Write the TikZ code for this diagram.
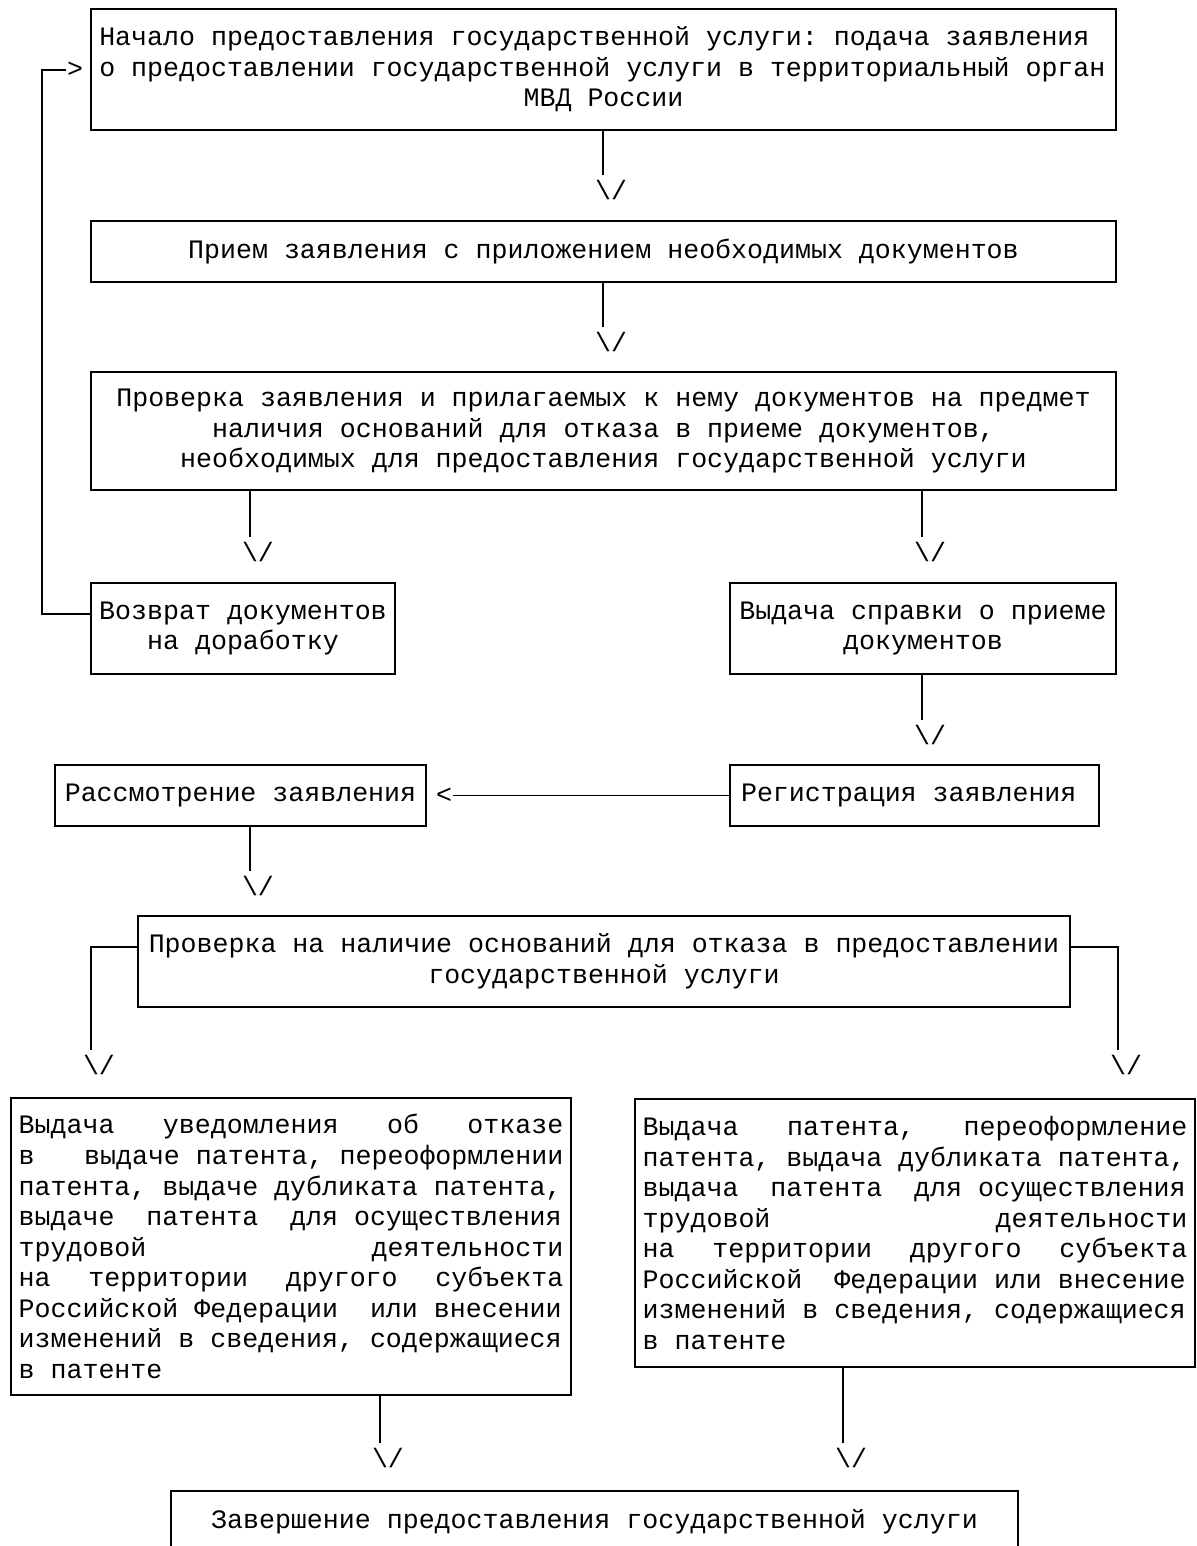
\documentclass[tikz,border=0pt]{standalone}
\usepackage{fontspec}
\setmonofont{Liberation Mono}
\usetikzlibrary{calc,positioning}

\newcommand{\ttsize}{\ttfamily\fontsize{15.15pt}{17.4pt}\selectfont\frenchspacing}
\tikzset{
  blk/.style={draw, line width=1.1pt, inner sep=0pt, align=flush center},
  tip/.style={inner sep=0pt},
}

\begin{document}
\begin{tikzpicture}[x=0.02cm,y=-0.02cm, font=\ttsize, line width=1.1pt]
\useasboundingbox (0,0) rectangle (1197,1546);
\clip (0,0) rectangle (1197,1546);

% boxes
\node[blk, minimum width=20.5cm, minimum height=2.42cm, text width=574pt, align=flush left] (start) at (603.5,69.5)
  {Начало предоставления государственной услуги: подача заявления\\
   о предоставлении государственной услуги в территориальный орган\\
   \hspace*{\fill}МВД России\hfill\null};
\node[blk, minimum width=20.5cm, minimum height=1.22cm] (accept) at (603.5,251.5)
  {Прием заявления с приложением необходимых документов};
\node[blk, minimum width=20.5cm, minimum height=2.36cm, text width=574pt] (check) at (603.5,431)
  {Проверка заявления и прилагаемых к нему документов на предмет\\
   наличия оснований для отказа в приеме документов,\\
   необходимых для предоставления государственной услуги};
\node[blk, minimum width=6.08cm, minimum height=1.82cm, text width=165pt] (back) at (243,628.5)
  {Возврат документов\\ на доработку};
\node[blk, minimum width=7.72cm, minimum height=1.82cm, text width=211pt] (certif) at (923,628.5)
  {Выдача справки о приеме\\ документов};
\node[blk, minimum width=7.38cm, minimum height=1.22cm, text width=6.94cm, align=flush left] (reg) at (914.5,795.5)
  {Регистрация заявления};
\node[blk, minimum width=7.42cm, minimum height=1.22cm] (review) at (240.5,795.5)
  {Рассмотрение заявления};
\node[blk, minimum width=18.64cm, minimum height=1.82cm, text width=520pt] (verify) at (604,961.5)
  {Проверка на наличие оснований для отказа в предоставлении\\
   государственной услуги};
\node[blk, minimum width=11.2cm, minimum height=5.94cm, text width=310pt, align=flush left] (refuse) at (291,1246.5)
  {Выдача\hfill уведомления\hfill об\hfill отказе\\
   в\hfill выдаче патента, переоформлении\\
   патента, выдаче дубликата патента,\\
   выдаче~~патента~~для осуществления\\
   трудовой\hfill деятельности\\
   на\hfill территории\hfill другого\hfill субъекта\\
   Российской Федерации~~или внесении\\
   изменений в сведения, содержащиеся\\
   в патенте};
\node[blk, minimum width=11.2cm, minimum height=5.36cm, text width=310pt, align=flush left] (issue) at (915,1233)
  {Выдача\hfill патента,\hfill переоформление\\
   патента, выдача дубликата патента,\\
   выдача~~патента~~для осуществления\\
   трудовой\hfill деятельности\\
   на\hfill территории\hfill другого\hfill субъекта\\
   Российской~~Федерации или внесение\\
   изменений в сведения, содержащиеся\\
   в патенте};
\node[blk, minimum width=16.94cm, minimum height=1.22cm] (finish) at (594.5,1521.5)
  {Завершение предоставления государственной услуги};

% ends of the lines
\coordinate (c1) at (603,175);
\coordinate (c2) at (603,327);
\coordinate (c3) at (250,537);
\coordinate (c4) at (922,537);
\coordinate (c5) at (922,720);
\coordinate (c6) at (250,871);
\coordinate (c7) at (91,1050);
\coordinate (c8) at (1118,1050);
\coordinate (c9) at (380,1443);
\coordinate (c10) at (843,1443);

% arrow heads
\node[tip] (t1) at (611,190) {\textbackslash/};
\node[tip] (t2) at (611,342) {\textbackslash/};
\node[tip] (t3) at (258,552) {\textbackslash/};
\node[tip] (t4) at (930,552) {\textbackslash/};
\node[tip] (t5) at (930,735) {\textbackslash/};
\node[tip] (t6) at (258,886) {\textbackslash/};
\node[tip] (t7) at (99,1065) {\textbackslash/};
\node[tip] (t8) at (1126,1065) {\textbackslash/};
\node[tip] (t9) at (388,1458) {\textbackslash/};
\node[tip] (t10) at (851,1458) {\textbackslash/};
\node[tip] (gt) at (75,70) {>};
\node[tip] (lt) at (444,795.5) {<};

% lines
\draw (c1 |- start.south) -- (c1);
\draw (c2 |- accept.south) -- (c2);
\draw (c3 |- check.south) -- (c3);
\draw (c4 |- check.south) -- (c4);
\draw (c5 |- certif.south) -- (c5);
\draw (c6 |- review.south) -- (c6);
\draw ([yshift=0.29cm]verify.west) -| (c7);
\draw ([yshift=0.29cm]verify.east) -| (c8);
\draw (c9 |- refuse.south) -- (c9);
\draw (c10 |- issue.south) -- (c10);
\draw ([yshift=0.29cm]back.west) -- ++(-48,0) |- (gt.west);
\draw (reg.west) -- (lt.east |- reg.west);

\end{tikzpicture}
\end{document}
